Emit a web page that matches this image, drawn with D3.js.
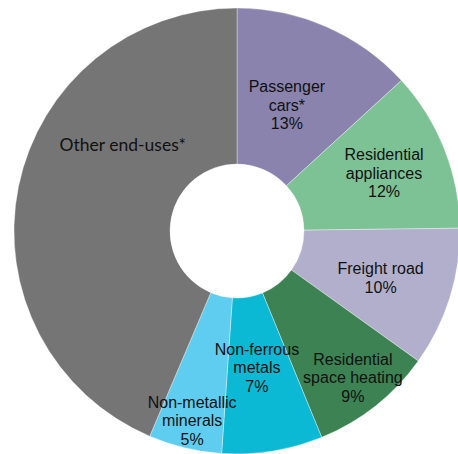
<!DOCTYPE html>
<html><head><meta charset="utf-8">
<script src="https://cdn.jsdelivr.net/npm/d3@7"></script>
<style>html,body{margin:0;padding:0;background:#fff;}</style>
</head><body><svg id="c" width="458" height="454"></svg>
<script>
// ---- data ----
const categories = ["Passenger cars*", "Residential appliances", "Freight road", "Residential space heating", "Non-ferrous metals", "Non-metallic minerals", "Other end-uses*"];
const shares = [13.2, 11.6, 10.1, 8.9, 7.3, 5.3, 43.6];
const labelLines = [["Passenger", "cars*"], ["Residential", "appliances"], ["Freight road"], ["Residential", "space heating"], ["Non-ferrous", "metals"], ["Non-metallic", "minerals"], ["Other end-uses*"]];
const showPct = [true, true, true, true, true, true, false];

// ---- layout / style ----
const colors = ["#8983AD", "#7DC295", "#B1AFCB", "#3C8253", "#0BB9D5", "#5FCDF0", "#757575"];
// label placement: [angle in degrees clockwise from top, radius]
const labelPlace = [[21.6, 135.5], [68.5, 158], [108, 151], [141.7, 187], [171.7, 138], [193.3, 195], [307, 143]];
const cx = 237, cy = 231, R = 223, r0 = 67;

const svg = d3.select("#c");
const g = svg.append("g").attr("transform", `translate(${cx},${cy})`);
const pie = d3.pie().sort(null).value(d => d);
const arcs = pie(shares);
const arc = d3.arc().innerRadius(r0).outerRadius(R);

g.selectAll("path").data(arcs).enter().append("path")
  .attr("d", arc)
  .attr("fill", (d, i) => colors[i])
  .attr("stroke", "#fff").attr("stroke-width", 0.6).attr("stroke-opacity", 0.6);

const lh = 18.6;
arcs.forEach((d, i) => {
  const lines = labelLines[i].slice();
  if (showPct[i]) lines.push(Math.round(shares[i]) + "%");
  const a = labelPlace[i][0] * Math.PI / 180, rr = labelPlace[i][1];
  const x = rr * Math.sin(a), y = -rr * Math.cos(a);
  const isOther = i === 6;
  const t = g.append("text")
    .attr("text-anchor", "middle")
    .attr("fill", "#111")
    .style("font-family", isOther ? "Lato, 'Open Sans', sans-serif" : "'Liberation Sans', Arial, sans-serif")
    .style("font-size", isOther ? "17.5px" : "16px");
  lines.forEach((ln, k) => {
    t.append("tspan").attr("x", x)
      .attr("y", y + (k - (lines.length - 1) / 2) * lh)
      .attr("dy", "0.35em").text(ln);
  });
});
</script></body></html>
